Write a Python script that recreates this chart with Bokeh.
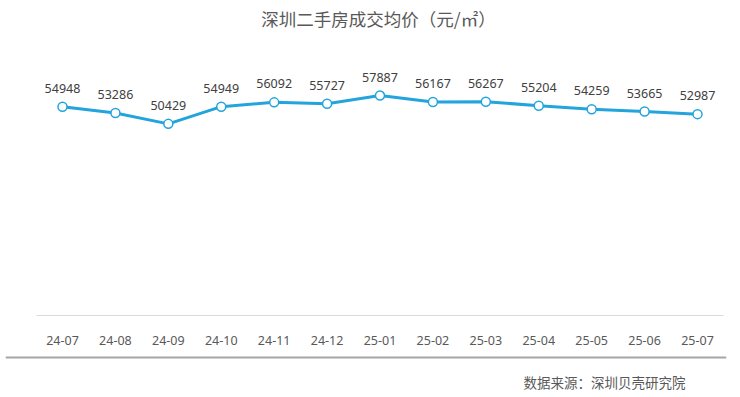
from bokeh.plotting import figure
from bokeh.models import ColumnDataSource, Range1d, Label, Span, FixedTicker
from bokeh.layouts import column
from bokeh.embed import file_html
from bokeh.resources import INLINE

months = ["24-07", "24-08", "24-09", "24-10", "24-11", "24-12", "25-01",
          "25-02", "25-03", "25-04", "25-05", "25-06", "25-07"]
prices = [54948, 53286, 50429, 54949, 56092, 55727, 57887,
          56167, 56267, 55204, 54259, 53665, 52987]
title_text = "深圳二手房成交均价（元/㎡）"
source_text = "数据来源：深圳贝壳研究院"

idx = list(range(len(months)))
src = ColumnDataSource(dict(x=idx, v=prices, t=[str(x) for x in prices]))

BLUE = "#23a4dd"
GREY = "#595959"
CJK = "Noto Sans CJK SC"
W = 732
BL, BR = 5, 6
FW = W - BL - BR          # 721 px frame, shared by all strips
STEP = 52.917             # px per category (for the x range only)
X0 = -(62 - BL) / STEP
X1 = (len(months) - 1) + (W - BR - 697) / STEP


def blank(h):
    f = figure(width=W, height=h, x_range=Range1d(0, 1), y_range=Range1d(0, 1),
               output_backend="svg", toolbar_location=None,
               min_border_left=BL, min_border_right=BR, min_border_top=0, min_border_bottom=0,
               x_axis_type=None, y_axis_type=None)
    f.outline_line_color = None
    f.xgrid.grid_line_color = None
    f.ygrid.grid_line_color = None
    return f


# title strip
t = blank(49)
t.add_layout(Label(x=(378 - BL) / FW, y=(49 - 18) / 49, text=title_text, text_align="center",
                   text_baseline="middle", text_font=CJK, text_font_size="17.5px",
                   text_color=GREY))

# main chart
p = figure(width=W, height=306, x_range=Range1d(X0, X1),
           y_range=Range1d(0, 70000), output_backend="svg", toolbar_location=None,
           min_border_left=BL, min_border_right=BR, min_border_top=0, min_border_bottom=40)
p.outline_line_color = None
p.xgrid.grid_line_color = None
p.ygrid.grid_line_color = None
p.yaxis.visible = False

ax = p.xaxis[0]
ax.ticker = FixedTicker(ticks=idx)
ax.major_label_overrides = {i: m for i, m in zip(idx, months)}
ax.bounds = (-0.5, len(months) - 0.5)
ax.axis_line_color = "#d9d9d9"
ax.axis_line_width = 1
ax.major_tick_line_color = None
ax.minor_tick_line_color = None
ax.major_label_standoff = 14
ax.major_label_text_font = "Noto Sans"
ax.major_label_text_font_size = "12.5px"
ax.major_label_text_color = GREY

p.line("x", "v", source=src, line_color=BLUE, line_width=3)
p.scatter("x", "v", source=src, size=9, fill_color="white", line_color=BLUE, line_width=1.5)
p.text("x", "v", text="t", source=src, text_align="center", text_baseline="bottom",
       y_offset=-14, text_font_size="12.5px", text_color="#404040",
       text_font={"value": "Noto Sans"})

# separator + source strip
q = blank(40)
q.add_layout(Span(location=(40 - 2) / 40, dimension="width", line_color="#a6a6a6", line_width=2))
q.add_layout(Label(x=(685 - BL) / FW, y=(40 - 26) / 40, text=source_text, text_align="right",
                   text_baseline="middle", text_font=CJK, text_font_size="13.5px",
                   text_color=GREY))

layout = column(t, p, q, spacing=0)
open("out.html", "w").write(file_html(layout, INLINE))
